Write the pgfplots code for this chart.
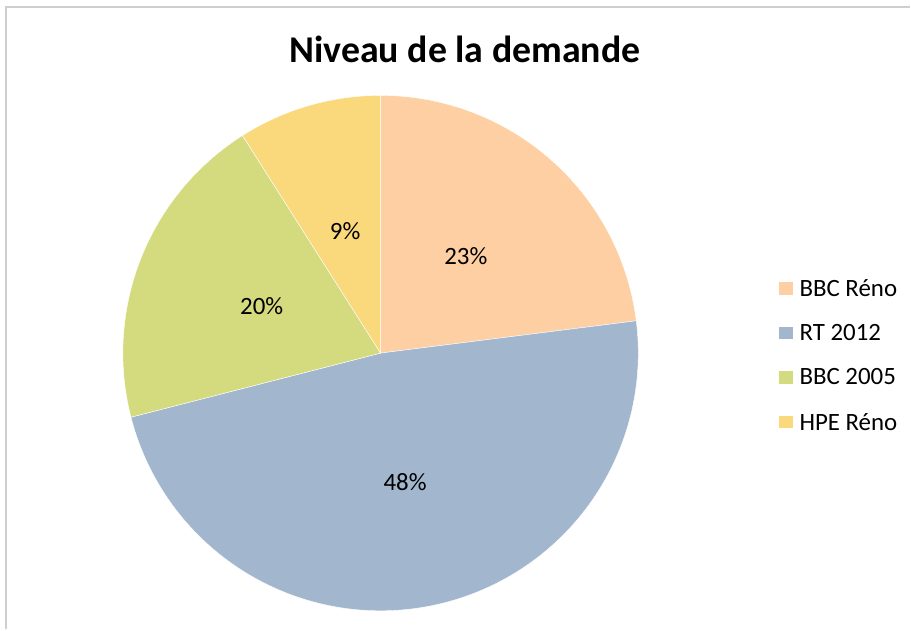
\documentclass[border=0pt]{standalone}
\usepackage{pgfplots}
\pgfplotsset{compat=1.18}
\usepackage{fontspec}
\setmainfont{Carlito}

\definecolor{bbcreno}{HTML}{FDCFA2}
\definecolor{rt}{HTML}{A2B7CE}
\definecolor{bbcold}{HTML}{D4DA7E}
\definecolor{hpe}{HTML}{FAD87C}

% pie geometry (picture units: 1bp = 1px of the 911x630 frame)
\def\cx{381}
\def\cy{276.5}
\def\R{258}
\newcommand\lblfont{\fontsize{25}{30}\selectfont}

\begin{document}
\begin{tikzpicture}
\begin{axis}[
  width=911bp, height=630bp,
  scale only axis,
  xmin=0, xmax=911, ymin=0, ymax=630,
  hide axis, clip=false,
  legend style={
    at={(axis cs:780,352.5)}, anchor=north west,
    draw=none, fill=none,
    font=\lblfont,
    row sep=22.7bp,
    cells={anchor=west},
    inner sep=0pt,
  },
  legend image code/.code={
    \fill[#1, draw=none] (0bp,-6bp) rectangle (13.5bp,6.5bp);
    \path (18bp,0bp);
  },
]
% values in percent: BBC Reno 23, RT 2012 48, BBC 2005 20, HPE Reno 9
% slices go clockwise from 12 o'clock, 3.6 degrees per percent
\addplot[fill=bbcreno, draw=white, line width=0.4bp, domain=90:7.2, samples=60]
  ({\cx+\R*cos(x)}, {\cy+\R*sin(x)}) -- (axis cs:\cx,\cy) -- cycle;
\addlegendentry{BBC Réno}
\addplot[fill=rt, draw=white, line width=0.4bp, domain=7.2:-165.6, samples=120]
  ({\cx+\R*cos(x)}, {\cy+\R*sin(x)}) -- (axis cs:\cx,\cy) -- cycle;
\addlegendentry{RT 2012}
\addplot[fill=bbcold, draw=white, line width=0.4bp, domain=-165.6:-237.6, samples=60]
  ({\cx+\R*cos(x)}, {\cy+\R*sin(x)}) -- (axis cs:\cx,\cy) -- cycle;
\addlegendentry{BBC 2005}
\addplot[fill=hpe, draw=white, line width=0.4bp, domain=-237.6:-270, samples=40]
  ({\cx+\R*cos(x)}, {\cy+\R*sin(x)}) -- (axis cs:\cx,\cy) -- cycle;
\addlegendentry{HPE Réno}

% data labels at half radius, middle angle of each slice
\node[font=\lblfont] at (axis cs:{\cx+129*cos(48.6)},{\cy+129*sin(48.6)}) {23\%};
\node[font=\lblfont] at (axis cs:{\cx+131*cos(-79.2)},{\cy+131*sin(-79.2)}) {48\%};
\node[font=\lblfont] at (axis cs:{\cx+128*cos(158.4)},{\cy+128*sin(158.4)}) {20\%};
\node[font=\lblfont] at (axis cs:{\cx+127*cos(106.2)},{\cy+127*sin(106.2)}) {9\%};

% title and chart-area frame
\node[font=\bfseries\fontsize{38}{44}\selectfont] at (axis cs:465.5,581) {Niveau de la demande};
\draw[color=black!19, line width=2bp] (axis cs:6.5,0) -- (axis cs:6.5,622.5) -- (axis cs:911,622.5);
\path (axis cs:0,0) rectangle (axis cs:911,630);
\end{axis}
\end{tikzpicture}
\end{document}
